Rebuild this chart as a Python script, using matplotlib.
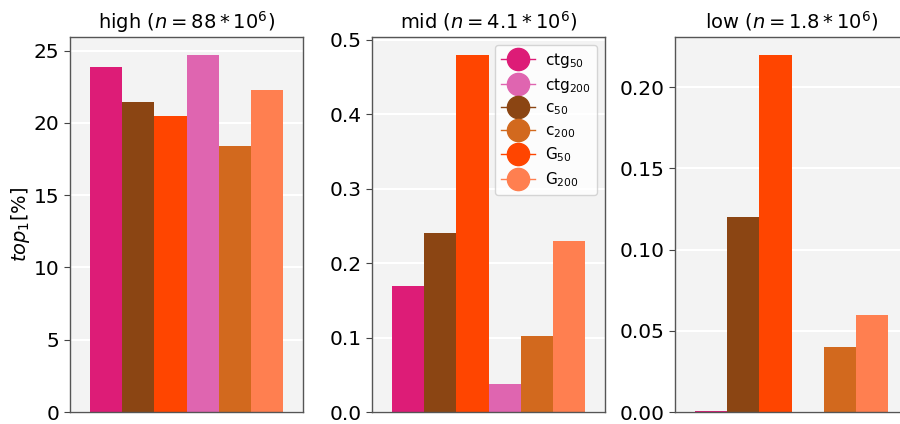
import matplotlib
matplotlib.use("Agg")
import matplotlib.pyplot as plt
from matplotlib.lines import Line2D

panels = ["high", "mid", "low"]
titles = [r"high ($n = 88 * 10^6$)", r"mid ($n = 4.1 * 10^6$)", r"low ($n = 1.8 * 10^6$)"]
series = ["ctg$_{50}$", "c$_{50}$", "G$_{50}$", "ctg$_{200}$", "c$_{200}$", "G$_{200}$"]
colors = ["#dd1c77", "#8b4513", "#ff4500", "#df65b0", "#d2691e", "#ff7f50"]
high = [23.85, 21.45, 20.45, 24.7, 18.4, 22.25]
mid = [0.17, 0.24, 0.48, 0.038, 0.102, 0.23]
low = [0.0004, 0.12, 0.22, 0.0, 0.04, 0.06]
values = [high, mid, low]
legend_order = [0, 3, 1, 4, 2, 5]

fig = plt.figure(figsize=(9, 4.24), dpi=100)
lefts = [70, 372, 675]
axes = []
for i, (vals, title) in enumerate(zip(values, titles)):
    ax = fig.add_axes([lefts[i] / 900, 12 / 424, 233 / 900, 375 / 424])
    ax.set_facecolor("#f3f3f3")
    ax.yaxis.grid(True, color="white", linewidth=1.5)
    ax.set_axisbelow(True)
    xs = list(range(len(vals)))
    ax.bar(xs, vals, width=1.0, color=colors, linewidth=0)
    ax.set_xlim(-1.12, 6.12)
    ax.set_xticks([])
    ax.set_title(title, fontsize=14)
    ax.tick_params(axis="y", labelsize=14.5, length=4, color="#444444")
    for s in ax.spines.values():
        s.set_color("#555555")
        s.set_linewidth(1.0)
    axes.append(ax)

axes[0].set_ylabel(r"$top_1[\%]$", fontsize=14, labelpad=1)
axes[0].set_yticks([0, 5, 10, 15, 20, 25])
axes[1].set_yticks([0.0, 0.1, 0.2, 0.3, 0.4, 0.5])
axes[1].yaxis.set_major_formatter(matplotlib.ticker.FormatStrFormatter("%.1f"))
axes[2].set_yticks([0.0, 0.05, 0.10, 0.15, 0.20])
axes[2].yaxis.set_major_formatter(matplotlib.ticker.FormatStrFormatter("%.2f"))

handles = [Line2D([0], [0], color=colors[k], marker="o", markersize=16, linewidth=1)
           for k in legend_order]
labels = [series[k] for k in legend_order]
axes[1].legend(handles, labels, loc="upper right", fontsize=11, framealpha=0.8,
               handlelength=2.2, labelspacing=0.38, borderpad=0.4, handletextpad=0.7)

fig.savefig("out.png", dpi=100)
